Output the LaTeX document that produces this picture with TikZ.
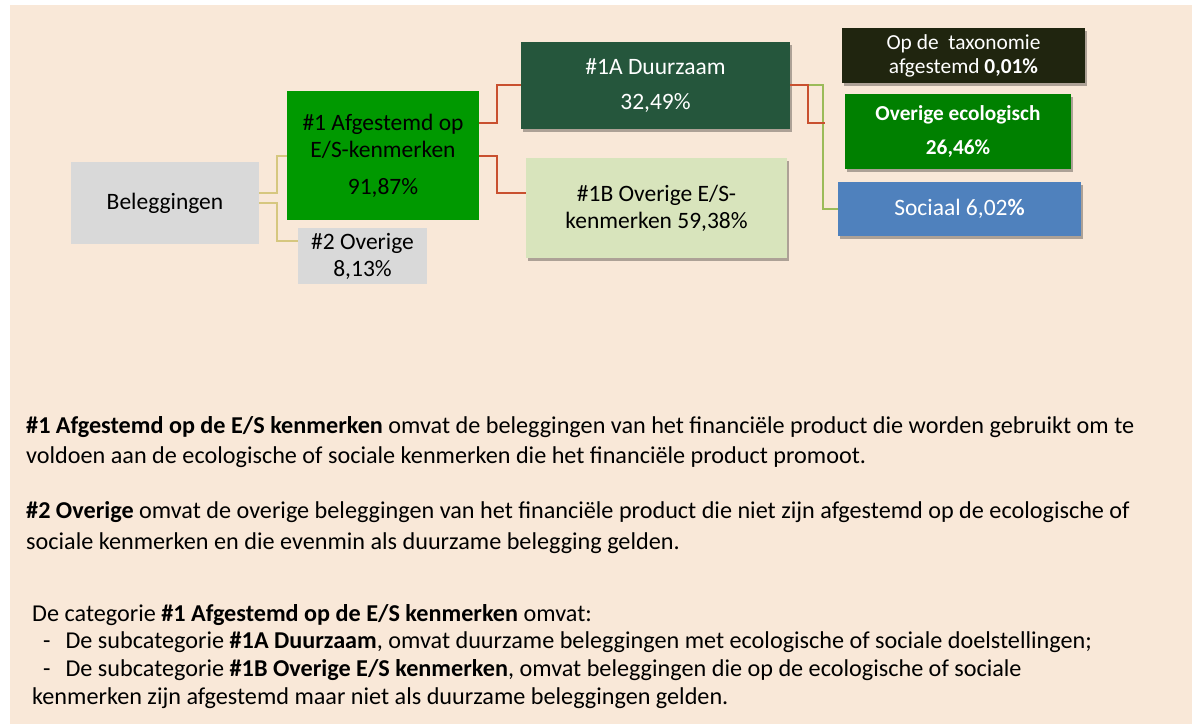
\documentclass[tikz,border=0pt]{standalone}
\usepackage{fontspec}
\setmainfont{Carlito}
\usetikzlibrary{shadows}
\definecolor{beige}{HTML}{F9E8D8}
\definecolor{lichtgrijs}{HTML}{D9D9D9}
\definecolor{felgroen}{HTML}{009900}
\definecolor{donkergroen}{HTML}{25563C}
\definecolor{lichtgroen}{HTML}{D8E4BC}
\definecolor{olijfzwart}{HTML}{20250F}
\definecolor{ecogroen}{HTML}{008000}
\definecolor{sociaalblauw}{HTML}{4F81BD}
\definecolor{lijnrood}{HTML}{C9502F}
\definecolor{lijngeel}{HTML}{D6C77F}
\definecolor{lijngroen}{HTML}{9BBB59}
\begin{document}
\begin{tikzpicture}[x=1pt,y=-1pt]
\tikzstyle{box} = [inner sep=0pt, align=center, font=\fontsize{23.5}{27}\selectfont]
\tikzstyle{schaduw} = [drop shadow={shadow xshift=2pt, shadow yshift=-3pt, opacity=0.3, fill=black}]
\tikzstyle{txt} = [inner sep=0pt, anchor=base west, font=\fontsize{24.2}{29}\selectfont]
\tikzstyle{tak} = [line width=2pt]
\useasboundingbox (0,0) rectangle (1198,724);
\fill[beige] (10,5) rectangle (1192,724);
\node[box, fill=lichtgrijs, minimum width=188, minimum height=82] (bel) at (165,203) {Beleggingen};
\node[box, fill=felgroen, minimum width=192, minimum height=129] (afg) at (383,155.5) {\#1 Afgestemd op\\E/S-kenmerken\\[10pt]91,87\%};
\node[box, fill=lichtgrijs, minimum width=129, minimum height=56] (ovr) at (362.5,256) {\#2 Overige\\8,13\%};
\node[box, schaduw, fill=donkergroen, text=white, minimum width=269, minimum height=87] (duu) at (655.5,85.5) {\#1A Duurzaam\\[8pt]32,49\%};
\node[box, schaduw, fill=lichtgroen, minimum width=261, minimum height=100] (esk) at (656.5,208) {\#1B Overige E/S-\\kenmerken 59,38\%};
\node[box, schaduw, fill=olijfzwart, text=white, minimum width=243, minimum height=55, font=\fontsize{21.4}{24}\selectfont] (tax) at (963.5,55.5) {Op de\ \ taxonomie\\afgestemd \textbf{0,01\%}};
\node[box, schaduw, fill=ecogroen, text=white, minimum width=226, minimum height=75, font=\bfseries\fontsize{21.3}{34}\selectfont] (eco) at (958,131.5) {Overige ecologisch\\26,46\%};
\node[box, schaduw, fill=sociaalblauw, text=white, minimum width=243, minimum height=54] (soc) at (959.5,209) {Sociaal 6,02\textbf{\%}};
\draw[tak, lijngeel] (bel.east |- 0,193) -- ++(18,0) |- (afg.west |- 0,156);
\draw[tak, lijngeel] (bel.east |- 0,203) -- ++(18,0) |- (ovr.west |- 0,241);
\draw[tak, lijnrood] (afg.east |- 0,123) -- ++(18,0) |- (duu.west |- 0,85);
\draw[tak, lijnrood] (afg.east |- 0,156) -- ++(18,0) |- (esk.west |- 0,193);
\draw[tak, lijngroen] (duu.east |- 0,85) -- ++(33,0) |- (soc.west |- 0,209);
\draw[tak, lijnrood] (duu.east |- 0,85) -- ++(18,0) |- ([xshift=-20pt]eco.west |- 0,123);
\node[txt] (p1a) at (26,433) {\textbf{\#1 Afgestemd op de E/S kenmerken} omvat de beleggingen van het financiële product die worden gebruikt om te};
\node[txt] (p1b) at (26,463) {voldoen aan de ecologische of sociale kenmerken die het financiële product promoot.};
\node[txt] (p2a) at (26,518) {\textbf{\#2 Overige} omvat de overige beleggingen van het financiële product die niet zijn afgestemd op de ecologische of};
\node[txt] (p2b) at (26,549) {sociale kenmerken en die evenmin als duurzame belegging gelden.};
\node[txt] (p3a) at (32,621) {De categorie \textbf{\#1 Afgestemd op de E/S kenmerken} omvat:};
\node[txt] (p3b) at (43,648) {-\hspace{15pt}De subcategorie \textbf{\#1A Duurzaam}, omvat duurzame beleggingen met ecologische of sociale doelstellingen;};
\node[txt] (p3c) at (43,676) {-\hspace{15pt}De subcategorie \textbf{\#1B Overige E/S kenmerken}, omvat beleggingen die op de ecologische of sociale};
\node[txt] (p3d) at (32,704) {kenmerken zijn afgestemd maar niet als duurzame beleggingen gelden.};
\end{tikzpicture}
\end{document}
